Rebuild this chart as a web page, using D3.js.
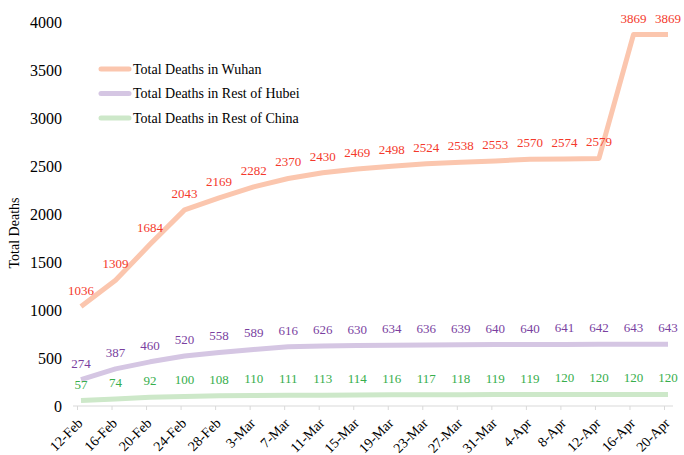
<!DOCTYPE html>
<html>
<head>
<meta charset="utf-8">
<script src="https://cdn.jsdelivr.net/npm/d3@7"></script>
<style>
  body { margin: 0; background: #fff; }
  svg, svg text { font-family: "Liberation Serif", "Times New Roman", serif; }
</style>
</head>
<body>
<div id="chart"></div>
<script>
const dates = ['12-Feb', '16-Feb', '20-Feb', '24-Feb', '28-Feb', '3-Mar', '7-Mar', '11-Mar', '15-Mar',
  '19-Mar', '23-Mar', '27-Mar', '31-Mar', '4-Apr', '8-Apr', '12-Apr', '16-Apr', '20-Apr'];
const wuhan = [1036, 1309, 1684, 2043, 2169, 2282, 2370, 2430, 2469, 2498, 2524, 2538, 2553, 2570, 2574, 2579, 3869, 3869];
const restHubei = [274, 387, 460, 520, 558, 589, 616, 626, 630, 634, 636, 639, 640, 640, 641, 642, 643, 643];
const restChina = [57, 74, 92, 100, 108, 110, 111, 113, 114, 116, 117, 118, 119, 119, 120, 120, 120, 120];
const yTicks = [0, 500, 1000, 1500, 2000, 2500, 3000, 3500, 4000];

const series = [
  {name: 'Total Deaths in Wuhan', values: wuhan, line: '#fbc6ae', label: '#f4392c'},
  {name: 'Total Deaths in Rest of Hubei', values: restHubei, line: '#d5c6e3', label: '#7a3f9f'},
  {name: 'Total Deaths in Rest of China', values: restChina, line: '#cde8c9', label: '#37ae4c'}
];

const width = 684;
const height = 455;
const margin = {top: 22, right: 16, bottom: 49, left: 81};
const serif = 'Liberation Serif, Times New Roman, serif';

const svg = d3.select('#chart').append('svg')
  .attr('width', width)
  .attr('height', height);

const x = d3.scalePoint()
  .domain(dates)
  .range([margin.left, width - margin.right]);

const y = d3.scaleLinear()
  .domain([0, 4000])
  .range([height - margin.bottom, margin.top]);

// y tick labels, no axis line
svg.append('g')
  .attr('transform', 'translate(62,0)')
  .call(d3.axisLeft(y).tickValues(yTicks).tickFormat(d3.format('d')).tickSize(0).tickPadding(0))
  .call(g => g.select('.domain').remove())
  .selectAll('text')
  .style('font-family', serif)
  .style('font-size', '16px')
  .attr('fill', '#000');

// x axis (ticks sit a little left of the points, as in the original)
const xAxis = svg.append('g')
  .attr('transform', 'translate(-4,' + (height - margin.bottom) + ')')
  .call(d3.axisBottom(x).tickSize(4).tickSizeOuter(0));

xAxis.select('.domain')
  .attr('d', 'M' + (margin.left - 4) + ',0H' + (width - margin.right + 9))
  .attr('stroke', '#d9d9d9');
xAxis.selectAll('line').attr('stroke', '#d9d9d9');
xAxis.selectAll('text')
  .style('font-family', serif)
  .style('font-size', '14px')
  .attr('fill', '#000')
  .attr('text-anchor', 'end')
  .attr('x', 0)
  .attr('y', 0)
  .attr('dy', 0)
  .attr('transform', 'translate(6,18) rotate(-45)');

// y axis title
svg.append('text')
  .attr('transform', 'translate(19,233) rotate(-90)')
  .attr('text-anchor', 'middle')
  .style('font-size', '14px')
  .text('Total Deaths');

const line = d3.line()
  .x((d, i) => x(dates[i]))
  .y(d => y(d));

series.slice().reverse().forEach(s => {
  svg.append('path')
    .datum(s.values)
    .attr('fill', 'none')
    .attr('stroke', s.line)
    .attr('stroke-width', 5)
    .attr('stroke-linejoin', 'round')
    .attr('d', line);
});

series.forEach(s => {
  svg.append('g')
    .selectAll('text')
    .data(s.values)
    .enter().append('text')
    .attr('x', (d, i) => x(dates[i]))
    .attr('y', d => y(d) - 12)
    .attr('text-anchor', 'middle')
    .attr('fill', s.label)
    .style('font-size', '13px')
    .text(d => d);
});

// legend
const legend = svg.append('g')
  .selectAll('g')
  .data(series)
  .enter().append('g')
  .attr('transform', (d, i) => 'translate(101,' + (69 + i * 24.5) + ')');

legend.append('line')
  .attr('x1', 0)
  .attr('x2', 28)
  .attr('stroke', d => d.line)
  .attr('stroke-width', 5)
  .attr('stroke-linecap', 'round');

legend.append('text')
  .attr('x', 32)
  .attr('dy', '0.35em')
  .style('font-size', '14px')
  .attr('fill', '#000')
  .text(d => d.name);
</script>
</body>
</html>
